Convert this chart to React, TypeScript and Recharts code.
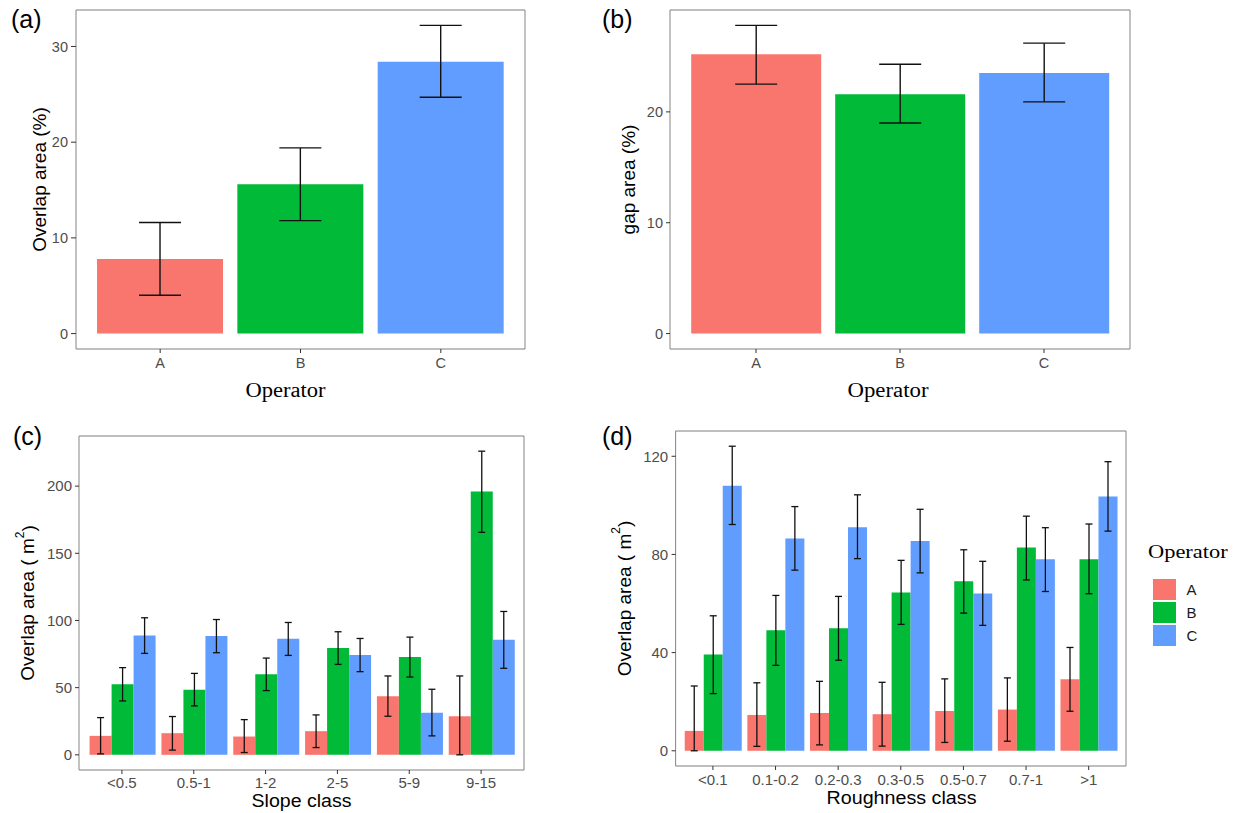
import { Bar, BarChart, CartesianGrid, Cell, ErrorBar, XAxis, YAxis } from "recharts";

// 4 パネル (a)-(d)。ggplot 風の見た目を Recharts で再現。

const OPERATORS = ["A", "B", "C"];
const COLORS = ["#F8766D", "#00BA38", "#619CFF"];

// (a) Overlap area (%)
const OVERLAP_PCT = [7.8, 15.6, 28.4];
const OVERLAP_PCT_LO = [4.0, 11.8, 24.7];
const OVERLAP_PCT_HI = [11.6, 19.4, 32.2];
const A_TICKS = [0, 10, 20, 30];
const A_MINOR = [5, 15, 25];

// (b) gap area (%)
const GAP_PCT = [25.2, 21.6, 23.5];
const GAP_PCT_LO = [22.5, 19.0, 20.9];
const GAP_PCT_HI = [27.8, 24.3, 26.2];
const B_TICKS = [0, 10, 20];
const B_MINOR = [5, 15, 25];

// (c) Slope class
const SLOPE_CLASSES = ["<0.5", "0.5-1", "1-2", "2-5", "5-9", "9-15"];
const SLOPE_A = [14.1, 16.1, 13.6, 17.6, 43.6, 28.7];
const SLOPE_A_LO = [0.7, 3.5, 1.7, 5.4, 28.7, 0];
const SLOPE_A_HI = [27.7, 28.5, 26.2, 29.7, 58.7, 58.7];
const SLOPE_B = [52.5, 48.5, 59.9, 79.5, 72.8, 196];
const SLOPE_B_LO = [40.1, 36.4, 47.8, 67.3, 57.9, 165.6];
const SLOPE_B_HI = [64.9, 60.6, 72, 91.6, 87.6, 226];
const SLOPE_C = [88.9, 88.4, 86.4, 74.3, 31.4, 85.6];
const SLOPE_C_LO = [75.5, 76, 74, 61.9, 14.1, 64.4];
const SLOPE_C_HI = [102, 100.7, 98.5, 86.6, 48.8, 106.7];
const C_TICKS = [0, 50, 100, 150, 200];
const C_MINOR = [25, 75, 125, 175, 225];

// (d) Roughness class
const ROUGH_CLASSES = ["<0.1", "0.1-0.2", "0.2-0.3", "0.3-0.5", "0.5-0.7", "0.7-1", ">1"];
const ROUGH_A = [8.1, 14.6, 15.4, 14.9, 16.2, 16.8, 29.1];
const ROUGH_A_LO = [0, 1.8, 2.4, 1.9, 3.4, 3.9, 16.1];
const ROUGH_A_HI = [26.4, 27.7, 28.3, 27.9, 29.3, 29.7, 42.1];
const ROUGH_B = [39.2, 49.1, 49.9, 64.5, 69.1, 82.8, 78];
const ROUGH_B_LO = [23.3, 34.8, 36.9, 51.5, 56.1, 69.6, 64];
const ROUGH_B_HI = [55, 63.3, 62.9, 77.6, 81.9, 95.6, 92.4];
const ROUGH_C = [108, 86.5, 91.1, 85.5, 64.1, 78, 103.6];
const ROUGH_C_LO = [92.2, 73.6, 78.3, 72.5, 51.1, 64.9, 89.5];
const ROUGH_C_HI = [124.1, 99.5, 104.3, 98.4, 77.2, 90.9, 117.8];
const D_TICKS = [0, 40, 80, 120];
const D_MINOR = [20, 60, 100];

const SANS = "'Liberation Sans', Arial, sans-serif";
const SERIF = "'Liberation Serif', 'Times New Roman', serif";
const BORDER = "#858585";
const GRID = "#EFEFEF";
const TICK_TOP = { fontSize: 14.5, fill: "#4D4D4D", fontFamily: SANS };
const TICK_BOTTOM = { fontSize: 15, fill: "#4D4D4D", fontFamily: SANS };

const err = (v: number, lo: number, hi: number) => [v - lo, hi - v];

const aData = OPERATORS.map((op, i) => ({
  op,
  v: OVERLAP_PCT[i],
  e: err(OVERLAP_PCT[i], OVERLAP_PCT_LO[i], OVERLAP_PCT_HI[i]),
}));
const bData = OPERATORS.map((op, i) => ({
  op,
  v: GAP_PCT[i],
  e: err(GAP_PCT[i], GAP_PCT_LO[i], GAP_PCT_HI[i]),
}));
const cData = SLOPE_CLASSES.map((cls, i) => ({
  cls,
  A: SLOPE_A[i],
  B: SLOPE_B[i],
  C: SLOPE_C[i],
  eA: err(SLOPE_A[i], SLOPE_A_LO[i], SLOPE_A_HI[i]),
  eB: err(SLOPE_B[i], SLOPE_B_LO[i], SLOPE_B_HI[i]),
  eC: err(SLOPE_C[i], SLOPE_C_LO[i], SLOPE_C_HI[i]),
}));
const dData = ROUGH_CLASSES.map((cls, i) => ({
  cls,
  A: ROUGH_A[i],
  B: ROUGH_B[i],
  C: ROUGH_C[i],
  eA: err(ROUGH_A[i], ROUGH_A_LO[i], ROUGH_A_HI[i]),
  eB: err(ROUGH_B[i], ROUGH_B_LO[i], ROUGH_B_HI[i]),
  eC: err(ROUGH_C[i], ROUGH_C_LO[i], ROUGH_C_HI[i]),
}));

function YTitle({ viewBox, text, sup, dx = 0 }: any) {
  if (!viewBox) return null;
  const cx = viewBox.x + viewBox.width / 2 + dx;
  const cy = viewBox.y + viewBox.height / 2;
  return (
    <text
      x={cx}
      y={cy}
      transform={`rotate(-90 ${cx} ${cy})`}
      textAnchor="middle"
      dominantBaseline="central"
      fontSize={19}
      fontFamily={SANS}
      fill="#000"
    >
      {text}
      {sup && (
        <>
          <tspan dy={-8} fontSize={12}>
            {sup}
          </tspan>
          <tspan dy={8}>)</tspan>
        </>
      )}
    </text>
  );
}

function XTitle({ viewBox, text, dx = 0, dy, serif, size, len }: any) {
  if (!viewBox) return null;
  return (
    <text
      x={viewBox.x + viewBox.width / 2 + dx}
      y={viewBox.y + dy}
      textAnchor="middle"
      fontSize={size}
      fontFamily={serif ? SERIF : SANS}
      textLength={len}
      lengthAdjust="spacingAndGlyphs"
      fill="#000"
    >
      {text}
    </text>
  );
}

// 枠線（上・右の軸線）とマイナーグリッド用の補助軸
function Frame({ domain, minor, xKey }: { domain: number[]; minor: number[]; xKey: string }) {
  return [
    <XAxis
      key="top"
      xAxisId="top"
      orientation="top"
      dataKey={xKey}
      height={1}
      tick={false}
      tickLine={false}
      axisLine={{ stroke: BORDER }}
    />,
    <YAxis
      key="r"
      yAxisId="r"
      orientation="right"
      type="number"
      domain={domain}
      allowDataOverflow
      ticks={minor}
      width={1}
      tick={false}
      tickLine={false}
      axisLine={{ stroke: BORDER }}
    />,
  ];
}

function PanelLabel({ text, left, top }: { text: string; left: number; top: number }) {
  return (
    <div
      style={{
        position: "absolute",
        left,
        top,
        fontSize: 25,
        lineHeight: "25px",
        fontFamily: SANS,
        color: "#000",
      }}
    >
      {text}
    </div>
  );
}

export default function App() {
  const aDomain = [-1.61, 33.81];
  const bDomain = [-1.39, 29.19];
  const cDomain = [-11.3, 237.3];
  const dDomain = [-6.2, 130.3];

  return (
    <div
      style={{
        position: "absolute",
        left: 0,
        top: 0,
        width: 1233,
        height: 813,
        background: "#fff",
        overflow: "hidden",
      }}
    >
      {/* (a) */}
      <div style={{ position: "absolute", left: 0, top: 0 }}>
        <BarChart
          width={600}
          height={410}
          data={aData}
          margin={{ top: 9, right: 74, bottom: 0, left: 0 }}
          barCategoryGap="5%"
        >
          <CartesianGrid yAxisId="r" vertical={false} stroke={GRID} />
          {Frame({ domain: aDomain, minor: A_MINOR, xKey: "op" })}
          <XAxis
            dataKey="op"
            height={61}
            padding={{ left: 14, right: 14 }}
            tick={TICK_TOP}
            tickSize={4}
            tickMargin={5}
            tickLine={{ stroke: "#333" }}
            axisLine={{ stroke: BORDER }}
            label={(p: any) => (
              <XTitle viewBox={p.viewBox} text="Operator" dx={-15} dy={48} serif size={20} len={80} />
            )}
          />
          <YAxis
            type="number"
            domain={aDomain}
            allowDataOverflow
            ticks={A_TICKS}
            width={76}
            tick={TICK_TOP}
            tickSize={5}
            tickMargin={3}
            tickLine={{ stroke: "#333" }}
            axisLine={{ stroke: BORDER }}
            label={(p: any) => <YTitle viewBox={p.viewBox} text="Overlap area (%)" dx={1.5} />}
          />
          <Bar dataKey="v" isAnimationActive={false}>
            {aData.map((d, i) => (
              <Cell key={d.op} fill={COLORS[i]} />
            ))}
            <ErrorBar dataKey="e" width={21} stroke="#111" strokeWidth={1.4} direction="y" />
          </Bar>
        </BarChart>
      </div>

      {/* (b) */}
      <div style={{ position: "absolute", left: 600, top: 0 }}>
        <BarChart
          width={633}
          height={410}
          data={bData}
          margin={{ top: 9, right: 102, bottom: 0, left: 0 }}
          barCategoryGap="5%"
        >
          <CartesianGrid yAxisId="r" vertical={false} stroke={GRID} />
          {Frame({ domain: bDomain, minor: B_MINOR, xKey: "op" })}
          <XAxis
            dataKey="op"
            height={61}
            padding={{ left: 14, right: 14 }}
            tick={TICK_TOP}
            tickSize={4}
            tickMargin={5}
            tickLine={{ stroke: "#333" }}
            axisLine={{ stroke: BORDER }}
            label={(p: any) => (
              <XTitle viewBox={p.viewBox} text="Operator" dx={-12} dy={48} serif size={20} len={81} />
            )}
          />
          <YAxis
            type="number"
            domain={bDomain}
            allowDataOverflow
            ticks={B_TICKS}
            width={70}
            tick={TICK_TOP}
            tickSize={4}
            tickMargin={3}
            tickLine={{ stroke: "#333" }}
            axisLine={{ stroke: BORDER }}
            label={(p: any) => <YTitle viewBox={p.viewBox} text="gap area (%)" dx={-6.5} />}
          />
          <Bar dataKey="v" isAnimationActive={false}>
            {bData.map((d, i) => (
              <Cell key={d.op} fill={COLORS[i]} />
            ))}
            <ErrorBar dataKey="e" width={21} stroke="#111" strokeWidth={1.4} direction="y" />
          </Bar>
        </BarChart>
      </div>

      {/* (c) */}
      <div style={{ position: "absolute", left: 0, top: 420 }}>
        <BarChart
          width={600}
          height={393}
          data={cData}
          margin={{ top: 15, right: 75, bottom: 0, left: 0 }}
          barCategoryGap="5%"
          barGap={0}
        >
          <CartesianGrid yAxisId="r" vertical={false} stroke={GRID} />
          {Frame({ domain: cDomain, minor: C_MINOR, xKey: "cls" })}
          <XAxis
            dataKey="cls"
            height={43}
            padding={{ left: 7, right: 7 }}
            tick={TICK_BOTTOM}
            tickSize={4}
            tickMargin={3}
            tickLine={{ stroke: "#333" }}
            axisLine={{ stroke: BORDER }}
            label={(p: any) => (
              <XTitle viewBox={p.viewBox} text="Slope class" dy={36.5} size={17.5} len={100} />
            )}
          />
          <YAxis
            type="number"
            domain={cDomain}
            allowDataOverflow
            ticks={C_TICKS}
            width={79}
            tick={TICK_BOTTOM}
            tickSize={4}
            tickMargin={3}
            tickLine={{ stroke: "#333" }}
            axisLine={{ stroke: BORDER }}
            label={(p: any) => <YTitle viewBox={p.viewBox} text="Overlap area ( m" sup="2" dx={-11.7} />}
          />
          {OPERATORS.map((op, i) => (
            <Bar key={op} dataKey={op} name={op} fill={COLORS[i]} isAnimationActive={false}>
              <ErrorBar dataKey={`e${op}`} width={3.5} stroke="#111" strokeWidth={1.3} direction="y" />
            </Bar>
          ))}
        </BarChart>
      </div>

      {/* (d) */}
      <div style={{ position: "absolute", left: 590, top: 420 }}>
        <BarChart
          width={643}
          height={393}
          data={dData}
          margin={{ top: 10, right: 106, bottom: 0, left: 0 }}
          barCategoryGap="5%"
          barGap={0}
        >
          <CartesianGrid yAxisId="r" vertical={false} stroke={GRID} />
          {Frame({ domain: dDomain, minor: D_MINOR, xKey: "cls" })}
          <XAxis
            dataKey="cls"
            height={47}
            padding={{ left: 6, right: 6 }}
            tick={TICK_BOTTOM}
            tickSize={4}
            tickMargin={4}
            tickLine={{ stroke: "#333" }}
            axisLine={{ stroke: BORDER }}
            label={(p: any) => (
              <XTitle viewBox={p.viewBox} text="Roughness class" dx={0.7} dy={37.5} size={17.5} len={150} />
            )}
          />
          <YAxis
            type="number"
            domain={dDomain}
            allowDataOverflow
            ticks={D_TICKS}
            width={85.6}
            tick={TICK_BOTTOM}
            tickSize={4}
            tickMargin={3.4}
            tickLine={{ stroke: "#333" }}
            axisLine={{ stroke: BORDER }}
            label={(p: any) => <YTitle viewBox={p.viewBox} text="Overlap area ( m" sup="2" dx={-8.8} />}
          />
          {OPERATORS.map((op, i) => (
            <Bar key={op} dataKey={op} name={op} fill={COLORS[i]} isAnimationActive={false}>
              <ErrorBar dataKey={`e${op}`} width={3.5} stroke="#111" strokeWidth={1.3} direction="y" />
            </Bar>
          ))}
        </BarChart>
      </div>

      {/* 凡例 */}
      <div style={{ position: "absolute", left: 1148, top: 541 }}>
        <div
          style={{
            fontFamily: SERIF,
            fontSize: 19,
            lineHeight: "22px",
            color: "#000",
            transform: "scaleX(1.18)",
            transformOrigin: "left center",
            whiteSpace: "nowrap",
          }}
        >
          Operator
        </div>
        <div style={{ marginTop: 15 }}>
          {OPERATORS.map((op, i) => (
            <div key={op} style={{ display: "flex", alignItems: "center", height: 23 }}>
              <span
                style={{
                  display: "inline-block",
                  width: 23,
                  height: 21,
                  marginLeft: 5,
                  background: COLORS[i],
                }}
              />
              <span style={{ marginLeft: 10.5, fontFamily: SANS, fontSize: 15, color: "#1A1A1A" }}>{op}</span>
            </div>
          ))}
        </div>
      </div>

      <PanelLabel text="(a)" left={11} top={7} />
      <PanelLabel text="(b)" left={602} top={7} />
      <PanelLabel text="(c)" left={13} top={424} />
      <PanelLabel text="(d)" left={602} top={424} />
    </div>
  );
}
